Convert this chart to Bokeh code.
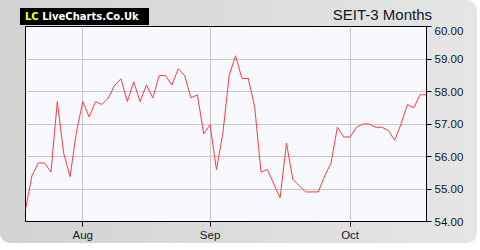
from bokeh.plotting import figure
from bokeh.models import FixedTicker, NumeralTickFormatter, Range1d, Div
from bokeh.layouts import column
from bokeh.embed import file_html
from bokeh.resources import INLINE

# ---- data ----
prices = [54.36, 55.40, 55.80, 55.80, 55.52, 57.69, 56.10, 55.38, 56.75, 57.69,
          57.22, 57.69, 57.60, 57.80, 58.19, 58.39, 57.69, 58.30, 57.69, 58.20,
          57.80, 58.49, 58.49, 58.20, 58.70, 58.49, 57.80, 57.90, 56.70, 56.98,
          55.60, 56.70, 58.49, 59.10, 58.40, 58.40, 57.54, 55.52, 55.60, 55.16,
          54.72, 56.41, 55.30, 55.10, 54.91, 54.91, 54.91, 55.40, 55.80, 56.90,
          56.60, 56.60, 56.90, 57.00, 57.00, 56.90, 56.90, 56.80, 56.50, 57.00,
          57.60, 57.50, 57.90, 57.90]
days = list(range(len(prices)))
month_ticks = [9, 29, 51]
month_labels = ["Aug", "Sep", "Oct"]
price_ticks = [54, 55, 56, 57, 58, 59, 60]
title_text = "SEIT-3 Months"
logo_mark = "LC"
logo_text = "LiveCharts.Co.Uk"

p = figure(frame_width=401, frame_height=195, output_backend="svg", toolbar_location=None,
           y_axis_location="right",
           x_range=Range1d(0, len(prices) - 1), y_range=Range1d(54, 60),
           min_border_left=25, min_border_right=51, min_border_top=0,
           min_border_bottom=20)
p.border_fill_color = None
p.background_fill_color = "#f8f9ff"
p.outline_line_color = "black"
p.outline_line_width = 1

p.line(days, prices, line_color="#ff3b3b", line_width=1)

p.xaxis.ticker = FixedTicker(ticks=month_ticks)
p.xaxis.major_label_overrides = {t: l for t, l in zip(month_ticks, month_labels)}
p.yaxis.ticker = FixedTicker(ticks=price_ticks)
p.yaxis.formatter = NumeralTickFormatter(format="0.00")
for ax in (p.xaxis, p.yaxis):
    ax.major_tick_in = 0
    ax.major_tick_out = 5
    ax.minor_tick_line_color = None
    ax.axis_line_color = "black"
    ax.major_tick_line_color = "black"
    ax.major_label_text_font = "Liberation Sans"
    ax.major_label_text_font_size = "11.5px"
    ax.major_label_text_color = "#101828"
p.xaxis.major_label_standoff = 2
p.yaxis.major_label_standoff = 3
p.xgrid.ticker = FixedTicker(ticks=month_ticks)
p.ygrid.ticker = FixedTicker(ticks=price_ticks)
p.grid.grid_line_color = "#c8c8c8"
p.grid.grid_line_width = 1

header_html = (
    '<div style="position:relative;width:477px;height:26px;">'
    '<div style="position:absolute;left:20px;top:8px;width:129px;height:17px;'
    'background:#000;font-family:\'DejaVu Sans\';font-weight:bold;font-size:10px;'
    'line-height:17px;white-space:nowrap;padding-left:5px;box-sizing:border-box;">'
    f'<span style="color:#ffff00">{logo_mark}</span> '
    f'<span style="color:#ffffff">{logo_text}</span></div>'
    '<div style="position:absolute;right:45px;top:7px;font-family:\'Liberation Sans\';'
    f'font-size:15px;line-height:15px;color:#151525;white-space:nowrap;">{title_text}</div>'
    '</div>'
)
header = Div(text=header_html, width=477, height=26, margin=0)

layout = column(header, p, spacing=0, margin=0,
                styles={"background": "linear-gradient(to right, #d2d2d2, #e6e6e6)",
                        "border-radius": "0px 10px 10px 10px"})

open("out.html", "w").write(file_html(layout, INLINE))
